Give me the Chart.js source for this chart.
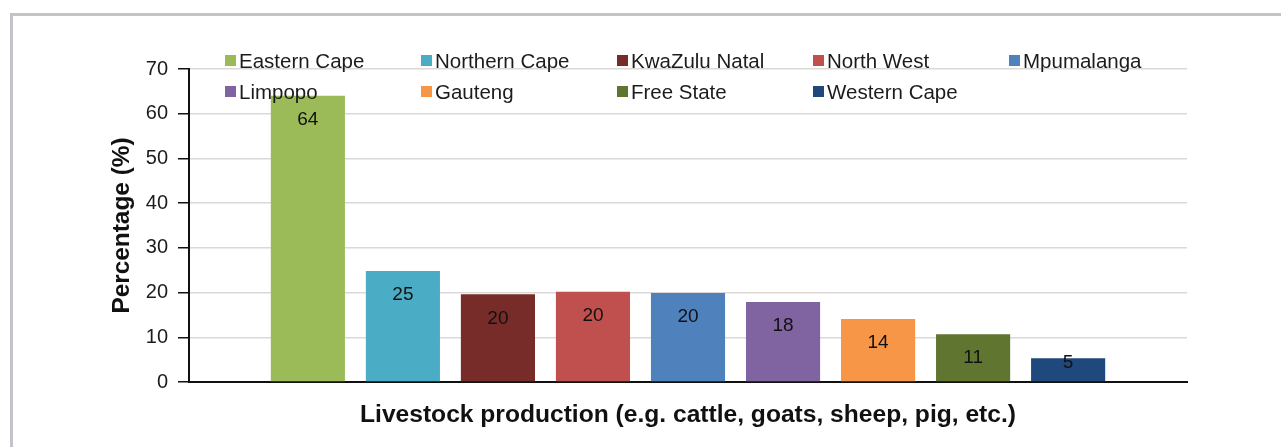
<!DOCTYPE html>
<html lang="en">
  <head>
    <meta charset="UTF-8" />
    <title>Livestock production by province</title>
    <script src="https://cdn.jsdelivr.net/npm/chart.js"></script>
    <style>
      body {
        margin: 0;
        background: #fff;
        font-family: "Liberation Sans", Arial, sans-serif;
        overflow: hidden;
      }
      .frame {
        position: absolute;
        left: 10px;
        top: 13px;
        width: 1300px;
        height: 500px;
        border: 3px solid #c4c4c8;
      }
      .wrap {
        position: absolute;
        left: 0;
        top: 0;
        width: 1281px;
        height: 447px;
      }
      #legend {
        position: absolute;
        left: 225px;
        top: 45px;
        display: grid;
        grid-template-columns: repeat(5, 196px);
        grid-auto-rows: 31px;
        font-size: 20.5px;
        color: #1c1c1c;
      }
      #legend .item {
        display: flex;
        align-items: center;
        white-space: nowrap;
      }
      #legend .box {
        width: 11px;
        height: 11px;
        margin-right: 3px;
      }
    </style>
  </head>
  <body>
    <div class="frame"></div>
    <div class="wrap">
      <canvas id="chart" width="1281" height="447"></canvas>
    </div>
    <div id="legend"></div>

    <script>
      const categories = ["Livestock production (e.g. cattle, goats, sheep, pig, etc.)"];
      const provinces = [
        "Eastern Cape",
        "Northern Cape",
        "KwaZulu Natal",
        "North West",
        "Mpumalanga",
        "Limpopo",
        "Gauteng",
        "Free State",
        "Western Cape",
      ];
      const values = [64, 24.8, 19.6, 20.2, 19.9, 17.9, 14.1, 10.7, 5.3];
      const colors = [
        "#9bbb59",
        "#4bacc6",
        "#772c2a",
        "#c0504d",
        "#4f81bd",
        "#8064a2",
        "#f79646",
        "#5f7530",
        "#1f497d",
      ];
      const yTicks = [0, 10, 20, 30, 40, 50, 60, 70];

      // legend laid out as a 5-column grid, like the original
      const legend = document.getElementById("legend");
      provinces.forEach((name, i) => {
        const item = document.createElement("div");
        item.className = "item";
        item.innerHTML =
          '<span class="box" style="background:' + colors[i] + '"></span>' + name;
        legend.appendChild(item);
      });

      const valueLabels = {
        id: "valueLabels",
        afterDatasetsDraw(chart) {
          const ctx = chart.ctx;
          ctx.save();
          ctx.font = '19px "Liberation Sans", Arial, sans-serif';
          ctx.fillStyle = "#111";
          ctx.textAlign = "center";
          ctx.textBaseline = "middle";
          chart.data.datasets.forEach((ds, i) => {
            const bar = chart.getDatasetMeta(i).data[0];
            const h = bar.base - bar.y;
            const off = h > 40 ? 24 : 4;
            ctx.fillText(Math.round(ds.data[0]), bar.x, bar.y + off);
          });
          ctx.restore();
        },
      };

      new Chart(document.getElementById("chart"), {
        type: "bar",
        data: {
          labels: categories,
          datasets: provinces.map((name, i) => ({
            label: name,
            data: [values[i]],
            backgroundColor: colors[i],
            categoryPercentage: 0.857,
            barPercentage: 0.78,
          })),
        },
        options: {
          responsive: false,
          animation: false,
          layout: {
            padding: { left: 100, right: 94, top: 69, bottom: 15 },
          },
          plugins: {
            legend: { display: false },
            tooltip: { enabled: false },
          },
          scales: {
            x: {
              grid: { display: false, drawTicks: false },
              border: { color: "#111", width: 2 },
              ticks: {
                color: "#111",
                padding: 18,
                maxRotation: 0,
                font: { family: '"Liberation Sans", Arial, sans-serif', size: 24.6, weight: "bold" },
              },
              afterFit(scale) {
                scale.height = 50;
              },
            },
            y: {
              min: 0,
              max: 70,
              afterBuildTicks(scale) {
                scale.ticks = yTicks.map((v) => ({ value: v }));
              },
              grid: {
                color: "#dcd8d8",
                lineWidth: 1.5,
                tickColor: "#111",
                tickLength: 11,
              },
              border: { color: "#111", width: 2 },
              ticks: {
                color: "#1c1c1c",
                padding: 10,
                font: { family: '"Liberation Sans", Arial, sans-serif', size: 20 },
              },
              title: {
                display: true,
                text: "Percentage (%)",
                color: "#111",
                padding: { top: 8, bottom: 0 },
                font: { family: '"Liberation Sans", Arial, sans-serif', size: 24.4, weight: "bold" },
              },
              afterFit(scale) {
                scale.width = 89;
              },
            },
          },
        },
        plugins: [valueLabels],
      });
    </script>
  </body>
</html>
